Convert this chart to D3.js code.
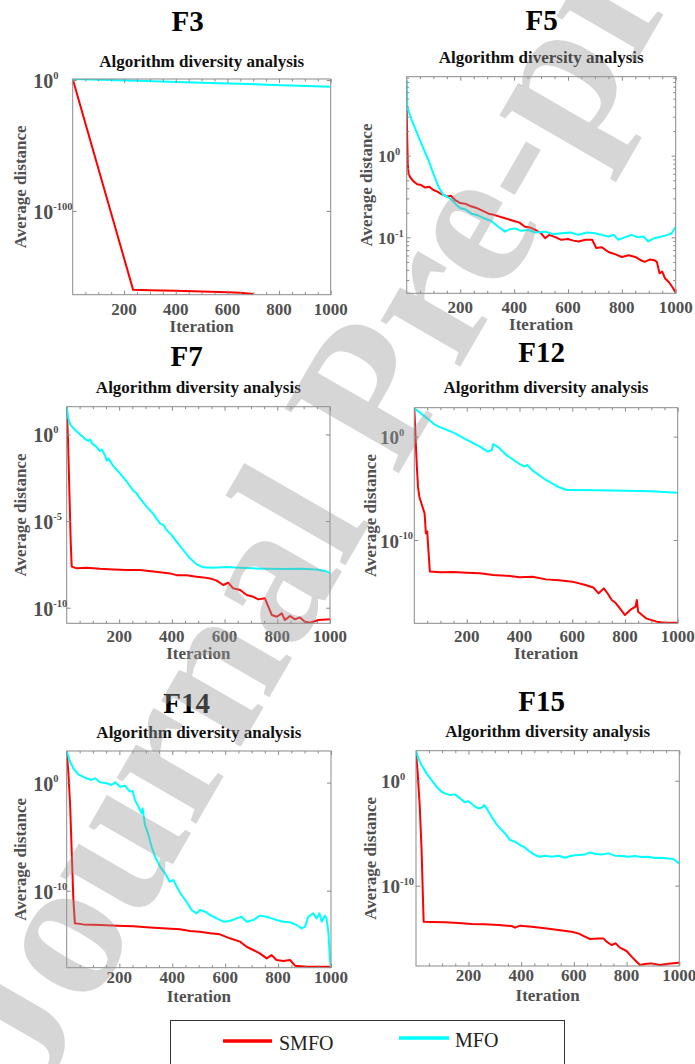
<!DOCTYPE html>
<html>
<head>
<meta charset="utf-8">
<script src="https://cdn.jsdelivr.net/npm/d3@7"></script>
<style>
  body { margin: 0; background: #fff; }
  svg { display: block; }
</style>
</head>
<body>
<svg id="chart" width="695" height="1064"></svg>
<script>
// ---------- data (iteration, log10 of average distance) ----------
const funcNames = ["F3", "F5", "F7", "F12", "F14", "F15"];
const seriesNames = ["SMFO", "MFO"];
const iterTicks = [200, 400, 600, 800, 1000];
const yTickExps = [[0, -100], [0, -1], [0, -5, -10], [0, -10], [0, -10], [0, -10]];
const yExtents = [[-164, 0.8], [-1.685, 0.967], [-10.9, 1.6], [-18.06, 2.8], [-17.13, 2.93], [-17.65, 2.86]];

const smfoF3 = [[1,0.8],[235,-160.3],[300,-160.6],[400,-161],[500,-161.6],[600,-162.1],[650,-162.5],[680,-163],[700,-163.4]];
const mfoF3 = [[1,0.8],[250,-0.6],[500,-2],[750,-3.5],[1000,-5.1]];

const smfoF5 = [[1,0.56],[3,0.2],[5,-0.1],[8,-0.22],[15,-0.27],[25,-0.31],[40,-0.35],[55,-0.36],[70,-0.39],[85,-0.38],[100,-0.42],
  [115,-0.44],[130,-0.47],[150,-0.50],[165,-0.49],[180,-0.54],[200,-0.58],[220,-0.59],[240,-0.62],[260,-0.64],[280,-0.67],
  [305,-0.71],[320,-0.72],[340,-0.74],[360,-0.76],[390,-0.79],[420,-0.82],[440,-0.87],[460,-0.88],[480,-0.91],[500,-0.95],
  [515,-1.01],[530,-0.97],[555,-1.0],[575,-1.03],[600,-1.02],[620,-1.04],[640,-1.05],[665,-1.03],[690,-1.03],[705,-1.13],
  [725,-1.12],[750,-1.18],[770,-1.20],[800,-1.24],[825,-1.22],[850,-1.24],[870,-1.28],[885,-1.30],[905,-1.27],[920,-1.28],
  [930,-1.30],[940,-1.44],[950,-1.42],[960,-1.50],[975,-1.55],[990,-1.62],[1000,-1.68]];
const mfoF5 = [[1,0.93],[3,0.6],[19,0.44],[50,0.19],[81,-0.05],[100,-0.22],[119,-0.38],[137,-0.48],[150,-0.50],[168,-0.54],
  [185,-0.60],[199,-0.64],[220,-0.66],[242,-0.71],[265,-0.73],[292,-0.77],[315,-0.80],[341,-0.87],[366,-0.93],[385,-0.90],
  [403,-0.89],[425,-0.92],[453,-0.91],[480,-0.94],[515,-0.93],[545,-0.96],[577,-0.95],[610,-0.94],[638,-0.97],[670,-0.94],
  [700,-0.95],[725,-0.97],[750,-0.99],[770,-0.97],[787,-1.03],[810,-1.00],[836,-0.97],[860,-1.00],[880,-0.99],[898,-1.05],
  [920,-1.01],[948,-0.99],[970,-0.97],[985,-0.95],[1000,-0.87]];

const smfoF7 = [[1,1.6],[6,-0.33],[11,-3.2],[16,-6.1],[20,-7.63],[39,-7.73],[77,-7.69],[127,-7.75],[178,-7.79],[229,-7.83],
  [279,-7.83],[304,-7.87],[355,-7.96],[393,-8.02],[418,-8.12],[456,-8.13],[494,-8.21],[519,-8.25],[545,-8.31],[570,-8.44],
  [595,-8.69],[614,-8.56],[633,-8.88],[659,-8.98],[684,-9.27],[709,-9.37],[728,-9.52],[753,-9.46],[766,-9.94],[779,-10.42],
  [798,-10.52],[817,-10.33],[829,-10.71],[848,-10.48],[867,-10.67],[886,-10.56],[905,-10.81],[924,-10.87],[956,-10.71],[1000,-10.67]];
const mfoF7 = [[1,1.6],[7,0.92],[16,0.54],[33,0.25],[52,0],[71,-0.27],[83,-0.38],[89,-0.29],[100,-0.56],[115,-0.73],[127,-0.96],
  [134,-0.87],[146,-1.19],[153,-1.52],[159,-1.38],[178,-1.83],[203,-2.25],[229,-2.73],[254,-3.25],[266,-3.4],[279,-3.69],
  [304,-4.17],[330,-4.6],[355,-5.13],[368,-5.23],[380,-5.52],[399,-5.81],[418,-6.19],[443,-6.67],[469,-7.15],[494,-7.5],
  [519,-7.67],[557,-7.69],[608,-7.65],[658,-7.69],[709,-7.73],[760,-7.75],[823,-7.77],[886,-7.75],[949,-7.79],[981,-7.88],[1000,-8.02]];

const smfoF12 = [[1,2.74],[10,-2.58],[15,-4.84],[20,-5.81],[40,-7.42],[45,-9.35],[50,-9.19],[52,-10],[60,-13.06],[100,-13.13],
  [150,-13.1],[200,-13.16],[250,-13.22],[300,-13.39],[350,-13.45],[400,-13.61],[450,-13.55],[500,-13.81],[550,-13.9],
  [600,-14.03],[650,-14.35],[680,-14.6],[700,-15.16],[720,-14.68],[735,-15.2],[750,-15.81],[765,-16.1],[780,-16.6],
  [800,-17.26],[820,-16.77],[840,-16.45],[845,-15.81],[850,-16.94],[880,-17.58],[920,-17.9],[950,-18.0],[1000,-18.0]];
const mfoF12 = [[1,2.74],[50,1.77],[80,1.13],[100,0.9],[150,0.39],[200,-0.32],[250,-0.97],[280,-1.45],[295,-1.29],[300,-0.71],
  [320,-1.03],[350,-1.77],[400,-2.65],[420,-2.9],[430,-2.74],[450,-3.29],[500,-4.19],[550,-4.9],[580,-5.16],[600,-5.16],
  [700,-5.19],[800,-5.23],[900,-5.29],[1000,-5.42]];

const smfoF14 = [[1,2.93],[7,1.02],[14,-2.07],[20,-6.39],[26,-10.71],[32,-13.02],[64,-13.12],[127,-13.18],[190,-13.24],
  [253,-13.30],[316,-13.40],[379,-13.49],[429,-13.58],[467,-13.73],[505,-13.80],[543,-13.95],[580,-14.04],[618,-14.41],
  [656,-14.72],[681,-15.19],[706,-15.49],[731,-15.80],[757,-16.27],[775,-15.96],[794,-16.42],[820,-16.51],[845,-16.42],
  [864,-16.94],[908,-17.04],[946,-17.04],[1000,-17.04]];
const mfoF14 = [[1,2.93],[14,1.94],[26,1.33],[45,0.77],[70,0.46],[95,0.25],[108,0.40],[127,0.03],[152,-0.06],[171,-0.22],
  [184,0.03],[203,-0.37],[221,-0.28],[240,-0.83],[250,-0.77],[259,-1.6],[272,-2.22],[284,-2.84],[288,-2.38],[297,-3.92],
  [310,-4.85],[322,-5.93],[335,-6.85],[354,-7.78],[373,-8.4],[391,-9.17],[404,-9.01],[417,-9.63],[435,-10.4],[454,-11.02],
  [473,-11.79],[492,-12.1],[505,-11.79],[524,-11.94],[543,-12.25],[568,-12.56],[593,-12.87],[618,-12.81],[643,-12.56],
  [662,-12.41],[681,-12.87],[706,-12.72],[731,-12.31],[757,-12.41],[775,-12.56],[794,-12.72],[820,-12.87],[845,-12.93],
  [870,-13.18],[889,-13.49],[902,-13.33],[914,-12.41],[933,-12.1],[946,-12.56],[956,-12.1],[965,-12.87],[977,-12.31],
  [983,-12.56],[990,-13.8],[996,-16.27],[1000,-17.13]];

const smfoF15 = [[1,2.83],[7,0.86],[15,-2.32],[22,-6.44],[30,-13.43],[60,-13.46],[111,-13.49],[162,-13.56],[212,-13.65],
  [263,-13.68],[313,-13.75],[364,-13.84],[377,-14.0],[396,-13.81],[440,-13.90],[490,-14.06],[541,-14.22],[591,-14.38],
  [617,-14.54],[642,-14.86],[661,-15.08],[693,-15.02],[712,-15.02],[724,-15.33],[743,-15.65],[758,-15.49],[775,-15.90],
  [800,-16.22],[819,-16.76],[838,-17.24],[851,-17.56],[870,-17.46],[895,-17.40],[926,-17.56],[958,-17.43],[1000,-17.33]];
const mfoF15 = [[1,2.83],[10,2.13],[22,1.49],[41,0.70],[60,0.06],[79,-0.57],[98,-1.05],[111,-1.21],[130,-1.37],[149,-1.30],
  [168,-1.68],[187,-2.06],[199,-1.94],[218,-2.32],[237,-2.63],[250,-2.57],[260,-2.32],[269,-2.63],[288,-3.43],[307,-4.16],
  [326,-4.70],[339,-5.02],[358,-5.65],[377,-5.81],[396,-6.13],[415,-6.38],[433,-6.76],[452,-7.08],[471,-7.24],[490,-7.14],
  [516,-7.24],[541,-7.14],[566,-7.33],[591,-7.14],[617,-7.08],[642,-7.02],[661,-6.83],[680,-6.95],[705,-7.02],[731,-6.92],
  [756,-7.14],[781,-7.17],[806,-7.24],[832,-7.17],[857,-7.27],[882,-7.24],[908,-7.37],[933,-7.33],[958,-7.40],[977,-7.46],
  [990,-7.71],[1000,-7.87]];

const smfoData = [smfoF3, smfoF5, smfoF7, smfoF12, smfoF14, smfoF15];
const mfoData = [mfoF3, mfoF5, mfoF7, mfoF12, mfoF14, mfoF15];

// ---------- layout ----------
const svg = d3.select("#chart");
const colorSMFO = "#ff0000";
const colorMFO = "#00ffff";
const serif = "'Liberation Serif', 'Times New Roman', serif";
const axisGray = "#8a8a8a";
const labelGray = "#505050";

const layout = [
  {left: 72.7, right: 330.7, top: 79, bottom: 294.7, titleX: 187.7, titleY: 31, subY: 66.7, tickY: 314.5, xlabY: 331.5, ylabX: 26, ytlX: 33.3, ytlSize: 20},
  {left: 406.7, right: 675.7, top: 76.7, bottom: 293.3, titleX: 541.7, titleY: 30, subY: 63.3, tickY: 312.5, xlabY: 329.5, ylabX: 372, ytlX: 378, ytlSize: 17},
  {left: 66.7, right: 330, top: 406.7, bottom: 623.3, titleX: 186.7, titleY: 366, subY: 393.3, tickY: 641.5, xlabY: 658.5, ylabX: 26, ytlX: 33.3, ytlSize: 20},
  {left: 414.3, right: 677.7, top: 407.7, bottom: 623.3, titleX: 541.7, titleY: 361.7, subY: 393.3, tickY: 641.5, xlabY: 658.5, ylabX: 376, ytlX: 380, ytlSize: 19},
  {left: 66.7, right: 331, top: 751, bottom: 967.7, titleX: 186.7, titleY: 713.3, subY: 738.3, tickY: 982.5, xlabY: 1002, ylabX: 26, ytlX: 33.3, ytlSize: 20},
  {left: 416, right: 679.3, top: 750.7, bottom: 966, titleX: 541.7, titleY: 711, subY: 736.7, tickY: 981, xlabY: 1000.5, ylabX: 376, ytlX: 381, ytlSize: 19}
];

function drawPanel(i) {
  const L = layout[i];
  const g = svg.append("g").attr("class", "panel");

  const x = d3.scaleLinear().domain([1, 1000]).range([L.left, L.right]);
  const y = d3.scaleLog()
    .domain(yExtents[i].map(e => Math.pow(10, e)))
    .range([L.bottom, L.top]);

  // titles
  g.append("text")
    .attr("x", L.titleX).attr("y", L.titleY)
    .attr("text-anchor", "middle")
    .style("font", "bold 29px " + serif)
    .style("fill", "#000")
    .text(funcNames[i]);
  g.append("text")
    .attr("x", (L.left + L.right) / 2).attr("y", L.subY)
    .attr("text-anchor", "middle")
    .style("font", "bold 17px " + serif)
    .style("fill", "#111")
    .text("Algorithm diversity analysis");

  // clipped lines
  const clipId = "clip" + i;
  g.append("clipPath").attr("id", clipId)
    .append("rect")
    .attr("x", L.left).attr("y", L.top)
    .attr("width", L.right - L.left).attr("height", L.bottom - L.top);

  const line = d3.line()
    .x(d => x(d[0]))
    .y(d => y(Math.pow(10, d[1])));

  const lines = g.append("g").attr("clip-path", "url(#" + clipId + ")");
  lines.append("path").datum(smfoData[i])
    .attr("d", line).attr("fill", "none")
    .attr("stroke", colorSMFO).attr("stroke-width", 2).attr("stroke-linejoin", "round");
  lines.append("path").datum(mfoData[i])
    .attr("d", line).attr("fill", "none")
    .attr("stroke", colorMFO).attr("stroke-width", 2).attr("stroke-linejoin", "round");

  // ticks (inward, on all four sides)
  const minorX = d3.range(50, 1000, 50).filter(v => v % 200 !== 0);
  const majorY = yTickExps[i].map(e => Math.pow(10, e));
  const tickAxes = [
    [d3.axisBottom(x).tickValues(iterTicks).tickSize(-4), L.bottom, "x"],
    [d3.axisBottom(x).tickValues(minorX).tickSize(-2.5), L.bottom, "x"],
    [d3.axisTop(x).tickValues(iterTicks).tickSize(-4), L.top, "x"],
    [d3.axisTop(x).tickValues(minorX).tickSize(-2.5), L.top, "x"],
    [d3.axisLeft(y).tickValues(majorY).tickSize(-4), L.left, "y"],
    [d3.axisRight(y).tickValues(majorY).tickSize(-4), L.right, "y"]
  ];
  if (i === 1) {
    const minorY = y.ticks().filter(v => Math.abs(Math.log10(v) - Math.round(Math.log10(v))) > 1e-6);
    tickAxes.push([d3.axisLeft(y).tickValues(minorY).tickSize(-2.5), L.left, "y"]);
    tickAxes.push([d3.axisRight(y).tickValues(minorY).tickSize(-2.5), L.right, "y"]);
  }
  tickAxes.forEach(([ax, pos, dir]) => {
    const a = g.append("g")
      .attr("transform", dir === "x" ? `translate(0,${pos})` : `translate(${pos},0)`)
      .call(ax.tickFormat("").tickSizeOuter(0));
    a.select(".domain").remove();
    a.selectAll("line").attr("stroke", axisGray);
  });

  // box
  g.append("rect")
    .attr("x", L.left).attr("y", L.top)
    .attr("width", L.right - L.left).attr("height", L.bottom - L.top)
    .attr("fill", "none").attr("stroke", axisGray).attr("stroke-width", 1);

  // x tick labels
  g.selectAll(".xTickLabel").data(iterTicks).enter().append("text")
    .attr("class", "xTickLabel")
    .attr("x", d => x(d)).attr("y", L.tickY)
    .attr("text-anchor", "middle")
    .style("font", "bold 17px " + serif)
    .style("fill", labelGray)
    .text(d => d);

  // y tick labels 10^n (left aligned like the original)
  yTickExps[i].forEach(e => {
    const t = g.append("text")
      .attr("x", L.ytlX).attr("y", y(Math.pow(10, e)) + L.ytlSize * 0.4)
      .attr("text-anchor", "start")
      .style("font", `bold ${L.ytlSize}px ` + serif)
      .style("fill", labelGray);
    t.append("tspan").text("10");
    t.append("tspan").attr("dy", -L.ytlSize * 0.45).style("font-size", "10.5px").text(String(e));
  });

  // axis labels
  g.append("text")
    .attr("x", (L.left + L.right) / 2).attr("y", L.xlabY)
    .attr("text-anchor", "middle")
    .style("font", "bold 17px " + serif)
    .style("fill", labelGray)
    .text("Iteration");
  g.append("text")
    .attr("transform", `translate(${L.ylabX},${(L.top + L.bottom) / 2}) rotate(-90)`)
    .attr("text-anchor", "middle")
    .style("font", "bold 17px " + serif)
    .style("fill", labelGray)
    .text("Average distance");
}

for (let i = 0; i < funcNames.length; i++) drawPanel(i);

// ---------- legend ----------
const legend = svg.append("g");
legend.append("rect")
  .attr("x", 170.5).attr("y", 1020.5).attr("width", 394).attr("height", 60)
  .attr("fill", "#fff").attr("stroke", "#333").attr("stroke-width", 1);
const legendItems = [
  {name: seriesNames[0], color: colorSMFO, x1: 223, x2: 272, y: 1041, tx: 279, ty: 1050},
  {name: seriesNames[1], color: colorMFO, x1: 399, x2: 449, y: 1038, tx: 455, ty: 1047}
];
legendItems.forEach(d => {
  legend.append("line")
    .attr("x1", d.x1).attr("x2", d.x2).attr("y1", d.y).attr("y2", d.y)
    .attr("stroke", d.color).attr("stroke-width", 3.5);
  legend.append("text")
    .attr("x", d.tx).attr("y", d.ty)
    .style("font", "20px " + serif)
    .style("fill", "#222")
    .text(d.name);
});

// ---------- watermark ----------
svg.append("text")
  .attr("transform", "translate(38,1098) rotate(-60)")
  .style("font", "bold 200px " + serif)
  .style("fill", "#9a9a9a")
  .style("opacity", 0.4)
  .text("Journal Pre-proof");
</script>
</body>
</html>
